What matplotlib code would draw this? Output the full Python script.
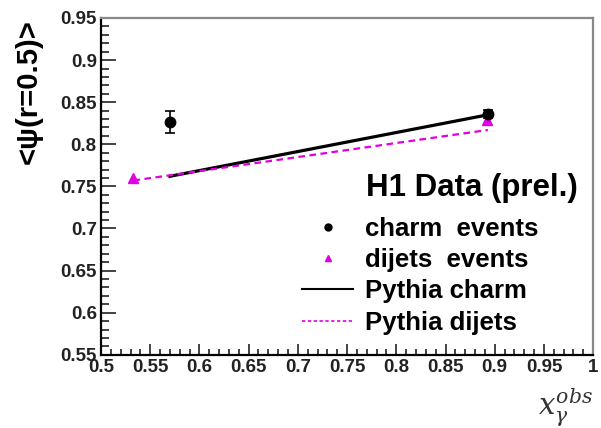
import numpy as np
import matplotlib.pyplot as plt
from matplotlib.ticker import MultipleLocator
from matplotlib.lines import Line2D

plt.rcParams['font.family'] = ['Liberation Sans', 'DejaVu Sans']

# data
charm_x = [0.570, 0.893]
charm_y = [0.827, 0.836]
charm_err = [0.013, 0.005]

dijet_x = [0.533, 0.892]
dijet_y = [0.760, 0.829]

pythia_charm_x = [0.570, 0.893]
pythia_charm_y = [0.762, 0.835]

pythia_dijet_x = [0.533, 0.893]
pythia_dijet_y = [0.757, 0.817]

xticks = ['0.5', '0.55', '0.6', '0.65', '0.7', '0.75', '0.8', '0.85', '0.9', '0.95', '1']
yticks = ['0.55', '0.6', '0.65', '0.7', '0.75', '0.8', '0.85', '0.9', '0.95']

magenta = '#e000e0'

fig = plt.figure(figsize=(6.01, 4.28), dpi=100)
ax = fig.add_axes([0.168, 0.171, 0.819, 0.787])

ax.plot(pythia_charm_x, pythia_charm_y, '-', color='black', lw=2.3)
ax.plot(pythia_dijet_x, pythia_dijet_y, color=magenta, lw=1.6, dashes=(3, 2))
ax.errorbar(charm_x, charm_y, yerr=charm_err, fmt='o', color='black', ms=7.5, capsize=3.5,
            elinewidth=1.2, capthick=1.2)
ax.plot(dijet_x, dijet_y, '^', color=magenta, ms=7.5)

ax.set_xlim(0.5, 1.0)
ax.set_ylim(0.55, 0.95)
ax.set_xticks(np.arange(0.5, 1.001, 0.05))
ax.set_xticklabels(xticks)
ax.set_yticks(np.arange(0.55, 0.951, 0.05))
ax.set_yticklabels(yticks)
ax.xaxis.set_minor_locator(MultipleLocator(0.01))
ax.yaxis.set_minor_locator(MultipleLocator(0.01))
ax.tick_params(which='both', direction='in', top=False, right=False, width=1.2, colors='#222222')
ax.tick_params(axis='y', which='major', length=11)
ax.tick_params(axis='y', which='minor', length=6)
ax.tick_params(axis='x', which='major', length=8)
ax.tick_params(axis='x', which='minor', length=4)
ax.tick_params(axis='y', labelsize=13.5, pad=3)
ax.tick_params(axis='x', labelsize=13.5, pad=3)
for lab in ax.get_xticklabels() + ax.get_yticklabels():
    lab.set_fontweight('bold')
for sp in ax.spines.values():
    sp.set_linewidth(1.6)
ax.spines['top'].set_color('#888888')
ax.spines['right'].set_color('#888888')

ax.set_ylabel('<ψ(r=0.5)>', fontsize=21, fontweight='bold')
ax.yaxis.set_label_coords(-0.118, 0.78)

fig.text(0.94, 0.03, r'$x_{\gamma}^{obs}$', fontsize=21, ha='center',
         color='#333333', math_fontfamily='dejavuserif')

# legend
fig.text(366 / 601, 1 - 188 / 428, 'H1 Data (prel.)', fontsize=22.5, fontweight='bold',
         ha='left', va='center')
handles = [
    Line2D([], [], ls='none', marker='o', color='black', ms=5),
    Line2D([], [], ls='none', marker='^', color=magenta, ms=5),
    Line2D([], [], color='black', lw=1.5),
    Line2D([], [], color=magenta, lw=1.2, dashes=(2, 1.5)),
]
labels = ['charm  events', 'dijets  events', 'Pythia charm', 'Pythia dijets']
ax.legend(handles, labels, loc='upper left', bbox_to_anchor=(302 / 601, 1 - 217 / 428),
          bbox_transform=fig.transFigure, frameon=False,
          prop={'size': 18.5, 'weight': 'bold'},
          handlelength=2.0, handletextpad=0.45, labelspacing=0.28,
          borderpad=0, borderaxespad=0)

fig.savefig('out.png', dpi=100)
